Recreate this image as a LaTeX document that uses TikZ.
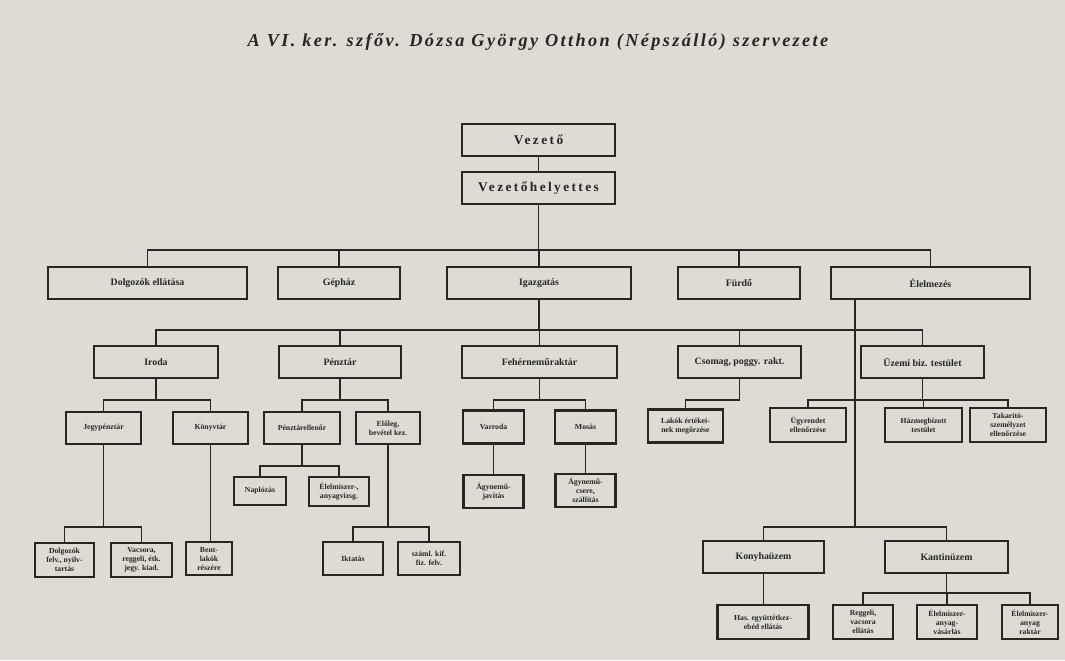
\documentclass[tikz,border=0pt]{standalone}
\usepackage{fontspec}
\setmainfont{Liberation Serif}
\definecolor{paper}{RGB}{221,219,212}
\definecolor{ink}{RGB}{40,38,36}

\begin{document}
\begin{tikzpicture}[
			x = 0.025cm, y = -0.025cm,
			wh/.style 2 args = {minimum width=#1*0.025cm, minimum height=#2*0.025cm},
			box/.style = {draw=ink, line width=1.5pt, text=ink, inner sep=0pt, align=center,
				font=\fontsize{7}{8}\selectfont\bfseries},
			smallbox/.style = {box, font=\fontsize{5.5}{6.4}\selectfont\bfseries},
			topbox/.style = {box, font=\fontsize{9.5}{11}\selectfont\bfseries\addfontfeatures{LetterSpace=18}},
			line/.style = {draw=ink, line width=1.3pt}]

			% paper
			\fill[paper] (0,0) rectangle (1065,660);
			\useasboundingbox (0,0) rectangle (1065,660);

			\node[text=ink, font=\fontsize{13}{15}\selectfont\bfseries\itshape\addfontfeatures{LetterSpace=13}] (title) at (538,42)
				{A VI. ker. szfőv. Dózsa György Otthon (Népszálló) szervezete};

			% top
			\node[topbox, wh={153}{32}] (vez) at (538.5,140) {Vezető};
			\node[topbox, wh={153}{32}] (vh) at (538.5,188) {Vezetőhelyettes};

			% first row
			\node[box, wh={199}{32}] (dolg) at (147.5,283) {Dolgozók ellátása};
			\node[box, wh={122}{32}] (gep) at (339,283) {Gépház};
			\node[box, wh={184}{32}] (igaz) at (539,283) {Igazgatás};
			\node[box, wh={122}{32}] (furdo) at (739,283) {Fürdő};
			\node[box, wh={199}{32}] (elem) at (930.5,283) {Élelmezés};

			% second row
			\node[box, wh={124}{32}] (iroda) at (156,362) {Iroda};
			\node[box, wh={122}{32}] (penz) at (340,362) {Pénztár};
			\node[box, wh={155}{32}] (feher) at (539.5,362) {Fehérneműraktár};
			\node[box, wh={123}{32}] (csom) at (739.5,362) {Csomag, poggy. rakt.};
			\node[box, wh={123}{32}] (uzemi) at (922.5,362) {Üzemi biz. testület};

			% third row
			\node[smallbox, wh={75}{32}] (jegy) at (103.5,428) {Jegypénztár};
			\node[smallbox, wh={75}{32}] (konyv) at (210.5,428) {Könyvtár};
			\node[smallbox, wh={76}{32}] (penzell) at (302,428) {Pénztárellenőr};
			\node[smallbox, wh={64}{32}] (eloleg) at (388,428) {Előleg,\\bevétel kez.};
			\node[smallbox, wh={61}{33}] (varr) at (493.5,427) {Varroda};
			\node[smallbox, wh={61}{33}] (mosas) at (585.5,427) {Mosás};
			\node[smallbox, wh={75}{33}] (lakok) at (685.5,426) {Lakók értékei-\\nek megőrzése};
			\node[smallbox, wh={76}{34}] (ugy) at (808,425) {Ügyrendet\\ellenőrzése};
			\node[smallbox, wh={77}{34}] (hazm) at (923.5,425) {Házmegbízott\\testület};
			\node[smallbox, wh={76}{34}] (takar) at (1008,425) {Takarító-\\személyzet\\ellenőrzése};

			% fourth row
			\node[smallbox, wh={52}{28}] (naplo) at (260,491) {Naplózás};
			\node[smallbox, wh={60}{29}] (elvizs) at (339,491.5) {Élelmiszer-,\\anyagvizsg.};
			\node[smallbox, wh={60}{33}] (agyjav) at (493.5,491.5) {Ágynemű-\\javítás};
			\node[smallbox, wh={60}{33}] (agycs) at (585.5,490.5) {Ágynemű-\\csere,\\szállítás};

			% fifth row
			\node[smallbox, wh={59}{34}] (dolgf) at (64.5,560) {Dolgozók\\felv., nyilv-\\tartás};
			\node[smallbox, wh={61}{34}] (vacs) at (141.5,560) {Vacsora,\\reggeli, étk.\\jegy. kiad.};
			\node[smallbox, wh={46}{33}] (bent) at (209,558.5) {Bent-\\lakók\\részére};
			\node[smallbox, wh={60}{33}] (ikt) at (353,558.5) {Iktatás};
			\node[smallbox, wh={62}{33}] (szaml) at (429,558.5) {száml. kif.\\fiz. felv.};
			\node[box, wh={121}{32}] (konyha) at (763.5,557) {Konyhaüzem};
			\node[box, wh={123}{32}] (kantin) at (946.5,557) {Kantinüzem};

			% sixth row
			\node[smallbox, wh={91}{34}] (has) at (763,622) {Has. együttétkez-\\ebéd ellátás};
			\node[smallbox, wh={60}{34}] (regg) at (863,622) {Reggeli,\\vacsora\\ellátás};
			\node[smallbox, wh={60}{34}] (elanyv) at (947,622) {Élelmiszer-\\anyag-\\vásárlás};
			\node[smallbox, wh={56}{34}] (elrakt) at (1030,622) {Élelmiszer-\\anyag\\raktár};

			% bar heights
			\coordinate (bar1) at (0,250);
			\coordinate (bar2) at (0,330);
			\coordinate (bar3) at (0,400);
			\coordinate (bar4) at (0,466);
			\coordinate (bar5) at (0,527);
			\coordinate (bar6) at (0,593);
			\coordinate (elemfoot) at (855,299);

			% connectors
			\draw[line] (vez) -- (vh);
			\draw[line] (vh) -- (vh.south |- bar1);
			\draw[line] (dolg.north) |- (elem.north |- bar1) -- (elem.north);
			\foreach \n in {gep,igaz,furdo} \draw[line] (\n.north) -- (\n.north |- bar1);

			\draw[line] (igaz) -- (igaz.south |- bar2);
			\draw[line] (iroda.north) |- (uzemi.north |- bar2) -- (uzemi.north);
			\foreach \n in {penz,feher,csom} \draw[line] (\n.north) -- (\n.north |- bar2);

			\draw[line] (iroda) -- (iroda.south |- bar3);
			\draw[line] (jegy.north) |- (konyv.north |- bar3) -- (konyv.north);
			\draw[line] (penz) -- (penz.south |- bar3);
			\draw[line] (penzell.north) |- (eloleg.north |- bar3) -- (eloleg.north);
			\draw[line] (feher) -- (feher.south |- bar3);
			\draw[line] (varr.north) |- (mosas.north |- bar3) -- (mosas.north);
			\draw[line] (csom.south) |- (lakok.north |- bar3) -- (lakok.north);
			\draw[line] (uzemi.south) -- (uzemi.south |- bar3);
			\draw[line] (ugy.north) |- (takar.north |- bar3) -- (takar.north);
			\draw[line] (hazm.north) -- (hazm.north |- bar3);

			\draw[line] (penzell) -- (penzell.south |- bar4);
			\draw[line] (naplo.north) |- (elvizs.north |- bar4) -- (elvizs.north);
			\draw[line] (varr.south) -- (varr.south |- agyjav.north);
			\draw[line] (mosas.south) -- (mosas.south |- agycs.north);

			\draw[line] (jegy) -- (jegy.south |- bar5);
			\draw[line] (dolgf.north) |- (vacs.north |- bar5) -- (vacs.north);
			\draw[line] (konyv.south) -- (konyv.south |- bent.north);
			\draw[line] (eloleg) -- (eloleg.south |- bar5);
			\draw[line] (ikt.north) |- (szaml.north |- bar5) -- (szaml.north);
			\draw[line] (elemfoot) -- (elemfoot |- bar5);
			\draw[line] (konyha.north) |- (kantin.north |- bar5) -- (kantin.north);

			\draw[line] (konyha.south) -- (konyha.south |- has.north);
			\draw[line] (kantin.south) -- (kantin.south |- bar6);
			\draw[line] (regg.north) |- (elrakt.north |- bar6) -- (elrakt.north);
			\draw[line] (elanyv.north) -- (elanyv.north |- bar6);

		\end{tikzpicture}
\end{document}
